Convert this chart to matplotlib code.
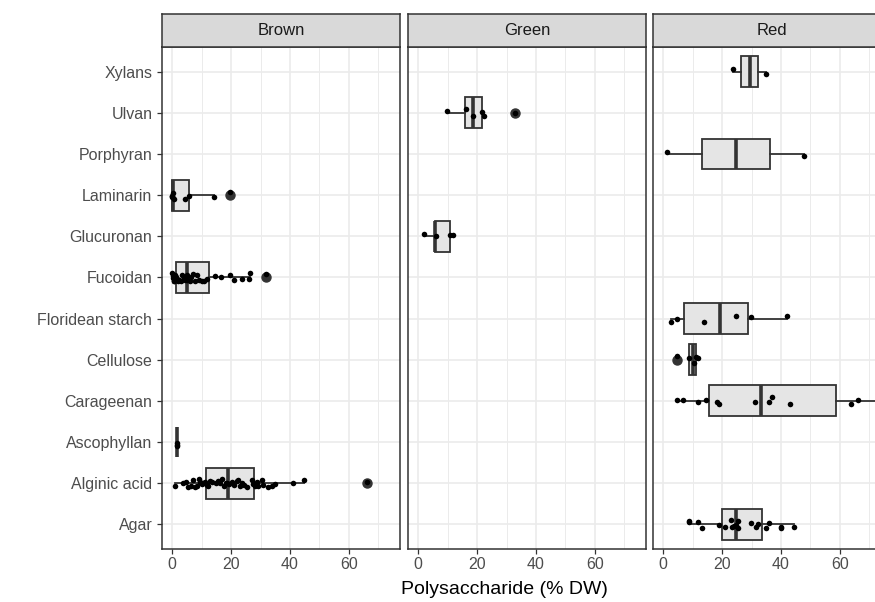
import numpy as np
import matplotlib
matplotlib.use('Agg')
import matplotlib.pyplot as plt

# 基础字体设置
plt.rcParams['font.family'] = ['Liberation Sans', 'DejaVu Sans']

categories = ['Agar', 'Alginic acid', 'Ascophyllan', 'Carageenan', 'Cellulose',
              'Floridean starch', 'Fucoidan', 'Glucuronan', 'Laminarin',
              'Porphyran', 'Ulvan', 'Xylans']
panels = ['Brown', 'Green', 'Red']
x_ticks = [0, 20, 40, 60]

# Brown
brown_groups = ['Alginic acid', 'Ascophyllan', 'Fucoidan', 'Laminarin']
brown_q1 = [11.5, 1.8, 1.2, 0.0]
brown_med = [18.9, 1.8, 5.2, 0.2]
brown_q3 = [27.9, 1.8, 12.4, 5.7]
brown_lo = [1.0, 1.8, 0.0, 0.0]
brown_hi = [44.8, 1.8, 26.5, 14.1]
brown_out = [[66.0], [], [32.0], [19.8]]
brown_pts = [
    [1.0, 3.8, 4.7, 5.5, 6.5, 7.2, 7.8, 8.4, 9.0, 9.5, 10.0, 10.6, 11.2, 11.8,
     12.3, 12.9, 13.5, 15.0, 15.7, 16.3, 16.8, 17.5, 18.2, 18.8, 19.3, 20.2,
     21.0, 21.9, 22.5, 23.0, 23.6, 24.4, 25.3, 27.0, 27.5, 28.1, 28.8, 29.3,
     30.5, 31.0, 32.7, 34.0, 34.9, 40.9, 44.8, 66.0],
    [1.8, 1.8, 1.8],
    [0.0, 0.2, 0.4, 0.6, 0.8, 1.0, 1.2, 1.5, 1.8, 2.0, 2.5, 3.0, 3.5, 4.0, 4.5,
     5.0, 5.2, 6.0, 6.5, 7.0, 7.8, 8.5, 9.0, 10.0, 11.0, 12.0, 14.6, 16.6,
     19.7, 21.0, 23.7, 26.0, 26.5, 32.0],
    [0.0, 0.0, 0.1, 0.3, 0.5, 4.3, 5.7, 14.1, 19.8],
]

# Green
green_groups = ['Glucuronan', 'Ulvan']
green_q1 = [5.6, 16.0]
green_med = [5.9, 18.8]
green_q3 = [11.0, 21.7]
green_lo = [2.0, 9.9]
green_hi = [11.9, 21.9]
green_out = [[], [33.0]]
green_pts = [
    [2.0, 6.2, 11.0, 11.9],
    [9.9, 16.4, 18.5, 21.7, 22.3, 33.0],
]

# Red
red_groups = ['Agar', 'Carageenan', 'Cellulose', 'Floridean starch',
              'Porphyran', 'Xylans']
red_q1 = [19.9, 15.5, 8.9, 7.0, 13.1, 26.6]
red_med = [24.9, 33.3, 10.2, 19.2, 24.7, 29.4]
red_q3 = [33.4, 58.7, 11.2, 28.7, 36.3, 32.2]
red_lo = [8.8, 4.7, 8.9, 2.8, 1.5, 23.8]
red_hi = [44.4, 73.0, 11.9, 42.0, 47.9, 35.0]
red_out = [[], [], [4.7], [], [], []]
red_pts = [
    [8.8, 8.9, 11.9, 13.3, 19.0, 21.0, 22.9, 23.5, 24.0, 24.9, 25.3, 25.5,
     29.9, 31.6, 32.1, 35.0, 36.0, 39.9, 40.1, 44.4],
    [4.7, 6.8, 11.9, 14.7, 18.3, 19.1, 31.1, 35.8, 36.9, 42.9, 63.8, 66.1, 73.0],
    [4.7, 8.9, 10.4, 11.2, 11.9],
    [2.8, 4.7, 13.8, 24.7, 29.8, 42.0],
    [1.5, 47.9],
    [23.8, 35.0],
]

panel_data = {
    'Brown': (brown_groups, brown_q1, brown_med, brown_q3, brown_lo, brown_hi, brown_out, brown_pts),
    'Green': (green_groups, green_q1, green_med, green_q3, green_lo, green_hi, green_out, green_pts),
    'Red': (red_groups, red_q1, red_med, red_q3, red_lo, red_hi, red_out, red_pts),
}

W, H = 875, 602
panel_left = {'Brown': 162, 'Green': 408, 'Red': 653}
panel_w = 238
panel_top, panel_bottom = 47, 549
strip_top = 14

rng = np.random.default_rng(11)

fig = plt.figure(figsize=(W / 100, H / 100), dpi=100)


def draw_panel(name, first):
    groups, q1, med, q3, lo, hi, out, pts = panel_data[name]
    x0 = panel_left[name] / W
    ax = fig.add_axes([x0, 1 - panel_bottom / H, panel_w / W,
                       (panel_bottom - panel_top) / H])
    pos = [categories.index(g) for g in groups]
    stats = [dict(q1=a, med=b, q3=c, whislo=d, whishi=e, fliers=f)
             for a, b, c, d, e, f in zip(q1, med, q3, lo, hi, out)]
    ax.bxp(stats, positions=pos, widths=0.75, orientation='horizontal',
           patch_artist=True, showcaps=False,
           boxprops=dict(facecolor='#E5E5E5', edgecolor='#333333', linewidth=1.3),
           medianprops=dict(color='#333333', linewidth=2.6, solid_capstyle='butt'),
           whiskerprops=dict(color='#333333', linewidth=1.3),
           flierprops=dict(marker='o', markerfacecolor='#333333',
                           markeredgecolor='#333333', markersize=6.5),
           zorder=2)
    # 抖动散点
    for p, vals in zip(pos, pts):
        yj = p + rng.uniform(-0.1, 0.1, len(vals))
        ax.plot(vals, yj, 'o', color='black', markersize=4.0,
                markeredgewidth=0, zorder=3)

    ax.set_xlim(-3.4, 77.3)
    ax.set_ylim(-0.6, len(categories) - 0.4)
    ax.set_xticks(x_ticks)
    ax.set_xticks([10, 30, 50, 70], minor=True)
    ax.set_yticks(range(len(categories)))
    ax.grid(which='major', color='#EBEBEB', linewidth=1.2, zorder=0)
    ax.grid(which='minor', axis='x', color='#EBEBEB', linewidth=0.7, zorder=0)
    ax.set_axisbelow(True)
    ax.tick_params(which='minor', length=0)
    ax.tick_params(axis='x', length=3.5, width=0.9, color='#333333',
                   labelsize=11.5, labelcolor='#4D4D4D', pad=2.5)
    if first:
        ax.set_yticklabels(categories)
        ax.tick_params(axis='y', length=3.5, width=0.9, color='#333333',
                       labelsize=11.5, labelcolor='#4D4D4D', pad=3.5)
    else:
        ax.set_yticklabels([])
        ax.tick_params(axis='y', length=0)
    for s in ax.spines.values():
        s.set_color('#333333')
        s.set_linewidth(1.1)

    # 分面标题
    sax = fig.add_axes([x0, 1 - panel_top / H, panel_w / W,
                        (panel_top - strip_top) / H])
    sax.set_xticks([])
    sax.set_yticks([])
    sax.set_facecolor('#D9D9D9')
    for s in sax.spines.values():
        s.set_color('#333333')
        s.set_linewidth(1.1)
    sax.text(0.5, 0.5, name, ha='center', va='center', fontsize=12,
             color='#1A1A1A', transform=sax.transAxes)
    return ax


for i, name in enumerate(panels):
    draw_panel(name, i == 0)

fig.text(504.5 / W, 1 - 590 / H, 'Polysaccharide (% DW)', ha='center',
         va='center', fontsize=14)

fig.savefig('out.png', dpi=100)
